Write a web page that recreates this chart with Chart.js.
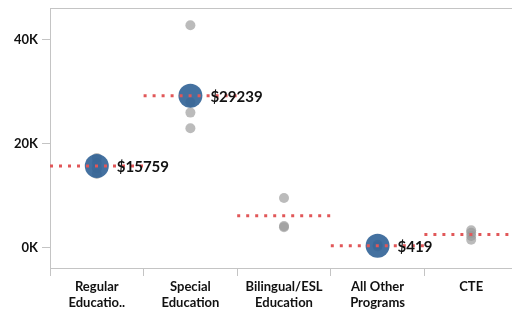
<!DOCTYPE html>
<html>
<head>
<meta charset="utf-8">
<script src="https://cdn.jsdelivr.net/npm/chart.js@4"></script>
<style>
  html, body { margin: 0; padding: 0; background: #fff; overflow: hidden; }
</style>
</head>
<body>
<canvas id="myChart" width="512" height="310"></canvas>
<script>
// categories along the x axis
const categories = [
    ['Regular', 'Educatio..'],
    ['Special', 'Education'],
    ['Bilingual/ESL', 'Education'],
    ['All Other', 'Programs'],
    'CTE'
];
// average per category (red dotted reference line)
const avgValues = [15759, 29239, 6200, 419, 2600];
// highlighted value per category (blue circle + label), null = none
const highlightValues = [15759, 29239, null, 419, null];
// individual values per category (grey dots)
const regularValues = [17300, 16300, 15300, 14200];
const specialValues = [42800, 28000, 26000, 23000];
const bilingualValues = [9600, 4200, 4000];
const otherValues = [300, 600];
const cteValues = [3400, 2900, 2300, 1600];
const yTicks = [0, 20000, 40000];

const groupValues = [regularValues, specialValues, bilingualValues, otherValues, cteValues];

var greyData = [];
groupValues.forEach(function (vals, i) {
    vals.forEach(function (v) { greyData.push({ x: i, y: v }); });
});

var blueData = [];
highlightValues.forEach(function (v, i) {
    if (v !== null) blueData.push({ x: i, y: v });
});

var avgData = [];
avgValues.forEach(function (v, i) {
    avgData.push({ x: i - 0.5, y: v });
    avgData.push({ x: i + 0.5, y: v });
    avgData.push({ x: i + 0.5, y: null });
});

const axisColor = '#c4c4c4';
const fontFamily = 'Lato, "DejaVu Sans", sans-serif';

const valueLabels = {
    id: 'valueLabels',
    afterDatasetsDraw(chart) {
        const ctx = chart.ctx;
        const xs = chart.scales.x, ys = chart.scales.y;
        ctx.save();
        ctx.font = 'bold 15px ' + fontFamily;
        ctx.fillStyle = '#111';
        ctx.textBaseline = 'middle';
        ctx.textAlign = 'left';
        highlightValues.forEach(function (v, i) {
            if (v === null) return;
            ctx.fillText('$' + v, xs.getPixelForValue(i) + 20, ys.getPixelForValue(v) + 1);
        });
        ctx.restore();
    }
};

var ctx = document.getElementById('myChart');

var myChart = new Chart(ctx, {
    type: 'scatter',
    data: {
        datasets: [{
            label: 'Promedio',
            data: avgData,
            showLine: true,
            spanGaps: false,
            borderColor: '#e15759',
            borderWidth: 3,
            borderDash: [3, 6],
            borderCapStyle: 'butt',
            pointRadius: 0,
            order: 0
        }, {
            label: 'Seleccion',
            data: blueData,
            pointRadius: 12,
            pointHoverRadius: 12,
            backgroundColor: 'rgba(48, 98, 150, 0.9)',
            borderWidth: 0,
            order: 1
        }, {
            label: 'Valores',
            data: greyData,
            pointRadius: 5,
            pointHoverRadius: 5,
            backgroundColor: 'rgba(150, 150, 150, 0.65)',
            borderWidth: 0,
            order: 2
        }]
    },
    options: {
        responsive: false,
        animation: false,
        layout: { autoPadding: false, padding: { top: 8, left: 0, right: 0, bottom: 0 } },
        plugins: {
            legend: { display: false },
            tooltip: { enabled: false }
        },
        scales: {
            x: {
                type: 'linear',
                position: 'bottom',
                min: -0.5,
                max: 4.436,
                afterBuildTicks: function (scale) {
                    var t = [];
                    for (var v = -0.5; v <= 4; v += 0.5) t.push({ value: v });
                    scale.ticks = t;
                },
                afterFit: function (scale) {
                    scale.height = 42;
                    scale.paddingLeft = 0;
                    scale.paddingRight = 0;
                },
                border: { display: true, color: axisColor, width: 1 },
                grid: {
                    drawOnChartArea: false,
                    tickLength: 8,
                    tickColor: function (c) {
                        return (c.tick && Number.isInteger(c.tick.value)) ? 'rgba(0,0,0,0)' : axisColor;
                    }
                },
                ticks: {
                    autoSkip: false,
                    maxRotation: 0,
                    padding: 3,
                    color: '#111',
                    font: { family: fontFamily, size: 13, weight: 'bold', lineHeight: 1.2 },
                    callback: function (value) {
                        return Number.isInteger(value) ? categories[value] : '';
                    }
                }
            },
            xTop: {
                type: 'linear',
                position: 'top',
                afterFit: function (scale) {
                    scale.height = 0;
                    scale.paddingLeft = 0;
                    scale.paddingRight = 0;
                },
                border: { display: true, color: axisColor, width: 1 },
                grid: { display: false },
                ticks: { display: false }
            },
            y: {
                min: -3850,
                max: 46100,
                afterBuildTicks: function (scale) {
                    scale.ticks = yTicks.map(function (v) { return { value: v }; });
                },
                afterFit: function (scale) {
                    scale.width = 50;
                    scale.paddingTop = 0;
                    scale.paddingBottom = 0;
                },
                border: { display: true, color: axisColor, width: 1 },
                grid: {
                    drawOnChartArea: false,
                    tickLength: 8,
                    tickColor: axisColor
                },
                ticks: {
                    padding: 4,
                    color: '#111',
                    font: { family: fontFamily, size: 13, weight: 'bold' },
                    callback: function (value) { return (value / 1000) + 'K'; }
                }
            }
        }
    },
    plugins: [valueLabels]
});
</script>
</body>
</html>
